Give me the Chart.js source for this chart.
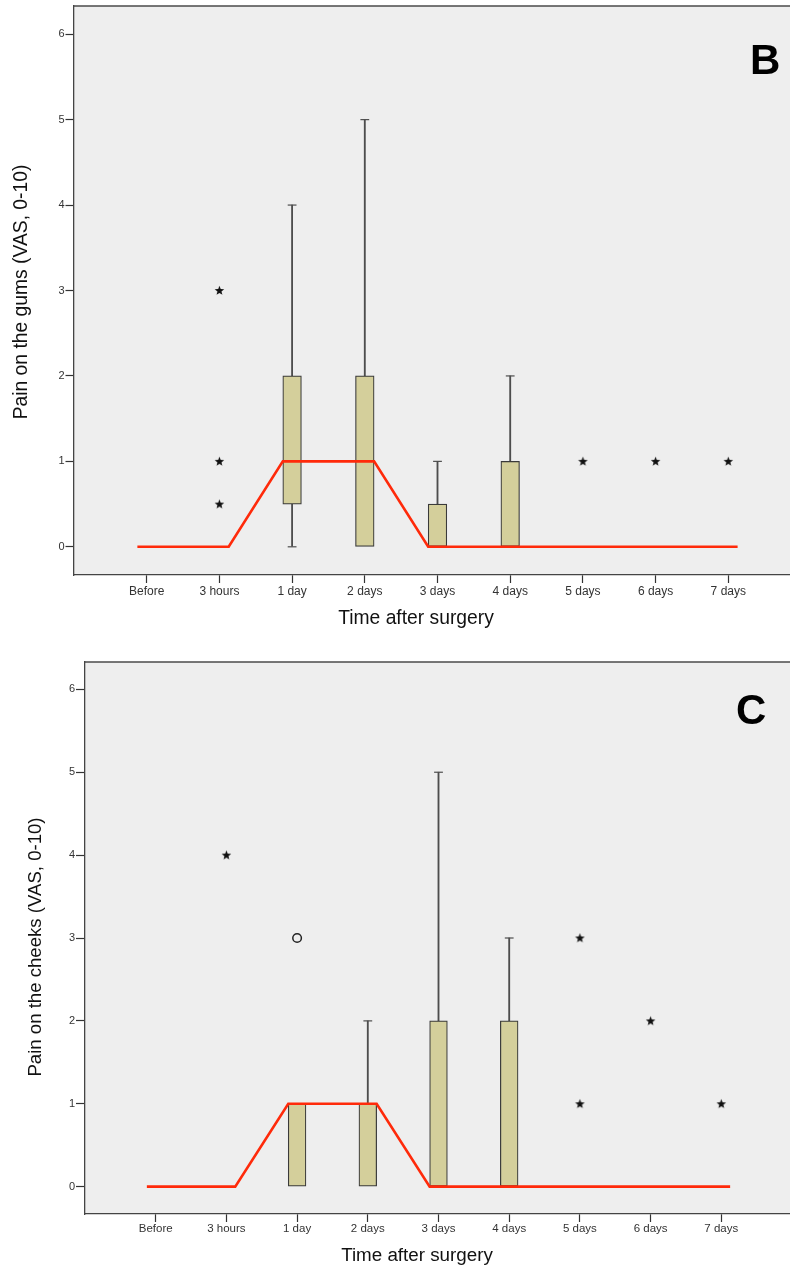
<!DOCTYPE html>
<html>
<head>
<meta charset="utf-8">
<script src="https://cdn.jsdelivr.net/npm/chart.js@4.4.1/dist/chart.umd.min.js"></script>
<style>
body { margin: 0; background: #fff; width: 790px; height: 1268px; overflow: hidden; position: relative; }
.panel { position: absolute; left: 0; width: 790px; overflow: hidden; }
canvas { display: block; }
</style>
</head>
<body>
<div class="panel" style="top:0;height:640px"><canvas id="gums" width="801" height="640"></canvas></div>
<div class="panel" style="top:640px;height:628px"><canvas id="cheeks" width="792" height="628"></canvas></div>
<script>
var labels = ['Before', '3 hours', '1 day', '2 days', '3 days', '4 days', '5 days', '6 days', '7 days'];
var yTicks = [0, 1, 2, 3, 4, 5, 6];
var xTitle = 'Time after surgery';

// B - pain on the gums
var gumsTitle  = 'Pain on the gums (VAS, 0-10)';
var gumsMin    = [0, 0, 0,   0, 0,   0, 0, 0, 0];
var gumsQ1     = [0, 0, 0.5, 0, 0,   0, 0, 0, 0];
var gumsMedian = [0, 0, 1,   1, 0,   0, 0, 0, 0];
var gumsQ3     = [0, 0, 2,   2, 0.5, 1, 0, 0, 0];
var gumsMax    = [0, 0, 4,   5, 1,   2, 0, 0, 0];
var gumsStars  = [[], [3, 1, 0.5], [], [], [], [], [1], [1], [1]];
var gumsRings  = [[], [], [], [], [], [], [], [], []];

// C - pain on the cheeks
var cheeksTitle  = 'Pain on the cheeks (VAS, 0-10)';
var cheeksMin    = [0, 0, 0, 0, 0, 0, 0, 0, 0];
var cheeksQ1     = [0, 0, 0, 0, 0, 0, 0, 0, 0];
var cheeksMedian = [0, 0, 1, 1, 0, 0, 0, 0, 0];
var cheeksQ3     = [0, 0, 1, 1, 2, 2, 0, 0, 0];
var cheeksMax    = [0, 0, 1, 2, 5, 3, 0, 0, 0];
var cheeksStars  = [[], [4], [], [], [], [], [3, 1], [2], [1]];
var cheeksRings  = [[], [], [3], [], [], [], [], [], []];

var FONT = '"Liberation Sans", Arial, Helvetica, sans-serif';

// little filled star used for the extreme values
var star = document.createElement('canvas');
star.width = 11; star.height = 11;
var sc = star.getContext('2d');
sc.beginPath();
for (var k = 0; k < 10; k++) {
    var r = k % 2 ? 2.1 : 5;
    var a = -Math.PI / 2 + k * Math.PI / 5;
    sc.lineTo(5.5 + r * Math.cos(a), 5.8 + r * Math.sin(a));
}
sc.closePath();
sc.fillStyle = '#111';
sc.fill();

// grey plot background, top frame line, panel letter and axis titles
var framePlugin = {
    id: 'frame',
    beforeDraw: function(chart) {
        var a = chart.chartArea, ctx = chart.ctx;
        ctx.save();
        ctx.fillStyle = '#eeeeee';
        ctx.fillRect(a.left, a.top, a.right - a.left, a.bottom - a.top);
        ctx.strokeStyle = '#4a4a4a';
        ctx.lineWidth = 1.3;
        ctx.beginPath();
        ctx.moveTo(a.left, a.top);
        ctx.lineTo(a.right, a.top);
        ctx.stroke();
        ctx.restore();
    },
    afterDraw: function(chart, args, o) {
        var ctx = chart.ctx;
        ctx.save();
        ctx.fillStyle = '#000';
        ctx.font = 'bold 42px ' + FONT;
        ctx.textBaseline = 'alphabetic';
        ctx.textAlign = 'left';
        ctx.fillText(o.letter, o.letterX, o.letterY);

        ctx.fillStyle = '#111';
        ctx.textBaseline = 'middle';
        ctx.textAlign = 'center';
        ctx.font = o.xTitleSize + 'px ' + FONT;
        ctx.fillText(xTitle, o.xTitleX, o.xTitleY);

        ctx.translate(o.yTitleX, o.yTitleY);
        ctx.rotate(-Math.PI / 2);
        ctx.font = o.yTitleSize + 'px ' + FONT;
        ctx.fillText(o.yTitle, 0, 0);
        ctx.restore();
    }
};

function makeChart(id, s, look) {
    var boxes = [], whiskers = [], caps = [], medianLine = [], stars = [], rings = [];
    labels.forEach(function(l, i) {
        if (s.q3[i] > s.q1[i]) boxes.push({x: i, y: [s.q1[i], s.q3[i]]});
        if (s.max[i] > s.q3[i]) {
            whiskers.push({x: i, y: [s.q3[i], s.max[i]]});
            caps.push({x: i, y: s.max[i]});
        }
        if (s.min[i] < s.q1[i]) {
            whiskers.push({x: i, y: [s.min[i], s.q1[i]]});
            caps.push({x: i, y: s.min[i]});
        }
        medianLine.push({x: i - look.half, y: s.median[i]}, {x: i + look.half, y: s.median[i]});
        s.stars[i].forEach(function(v) { stars.push({x: i, y: v}); });
        s.rings[i].forEach(function(v) { rings.push({x: i, y: v}); });
    });

    return new Chart(document.getElementById(id), {
        type: 'line',
        data: {
            datasets: [
                {
                    type: 'line', data: stars, showLine: false, order: 0,
                    pointStyle: star, pointRadius: 5, borderWidth: 0
                },
                {
                    type: 'line', data: rings, showLine: false, order: 0,
                    pointStyle: 'circle', pointRadius: 4.3, pointBorderWidth: 1.5,
                    pointBorderColor: '#222', pointBackgroundColor: 'rgba(0,0,0,0)'
                },
                {
                    type: 'line', data: medianLine, order: 1,
                    borderColor: '#ff2a0a', borderWidth: 2.6, pointRadius: 0, tension: 0
                },
                {
                    type: 'line', data: caps, showLine: false, order: 2,
                    pointStyle: 'line', pointRadius: 4.4, pointBorderWidth: 1.2, pointBorderColor: '#4d4d4d'
                },
                {
                    type: 'bar', data: boxes, order: 3, grouped: false,
                    barThickness: look.box, borderSkipped: false, borderWidth: 1.2,
                    borderColor: '#3a3a3a', backgroundColor: '#d4cf9b'
                },
                {
                    type: 'bar', data: whiskers, order: 4, grouped: false,
                    barThickness: 1.2, borderWidth: 0, backgroundColor: '#4d4d4d'
                }
            ]
        },
        options: {
            responsive: false,
            animation: false,
            events: [],
            layout: { autoPadding: false, padding: { top: look.top, left: 0, right: 0, bottom: 0 } },
            plugins: {
                legend: { display: false },
                tooltip: { enabled: false },
                frame: look.frame
            },
            scales: {
                x: {
                    type: 'linear', min: -1, max: 9, offset: false,
                    afterBuildTicks: function(sc) { sc.ticks = labels.map(function(l, i) { return {value: i}; }); },
                    afterFit: function(sc) { sc.height = look.xHeight; sc.paddingLeft = 0; sc.paddingRight = 0; },
                    grid: { drawOnChartArea: false, offset: false, tickLength: 8, tickColor: '#333', tickWidth: 1.2 },
                    border: { color: '#444', width: 1.3 },
                    ticks: {
                        autoSkip: false, maxRotation: 0, padding: look.xPad, color: '#333',
                        font: { size: look.xFont, family: FONT },
                        callback: function(v) { return labels[v]; }
                    }
                },
                y: {
                    min: -0.33, max: 6.33,
                    afterBuildTicks: function(sc) { sc.ticks = yTicks.map(function(v) { return {value: v}; }); },
                    afterFit: function(sc) { sc.width = look.yWidth; sc.paddingTop = 0; sc.paddingBottom = 0; },
                    grid: { drawOnChartArea: false, tickLength: look.yTick, tickColor: '#333', tickWidth: 1.2 },
                    border: { color: '#444', width: 1.3 },
                    ticks: { padding: 1, color: '#333', font: { size: 11, family: FONT } }
                }
            }
        },
        plugins: [framePlugin]
    });
}

makeChart('gums', {
    min: gumsMin, q1: gumsQ1, median: gumsMedian, q3: gumsQ3, max: gumsMax,
    stars: gumsStars, rings: gumsRings
}, {
    top: 6, xHeight: 65, yWidth: 74, box: 18.6, half: 0.128, xFont: 12, xPad: 1, yTick: 8.5,
    frame: {
        letter: 'B', letterX: 750, letterY: 74,
        xTitleSize: 19.3, xTitleX: 416, xTitleY: 619,
        yTitle: gumsTitle, yTitleSize: 19.3, yTitleX: 22, yTitleY: 292
    }
});

makeChart('cheeks', {
    min: cheeksMin, q1: cheeksQ1, median: cheeksMedian, q3: cheeksQ3, max: cheeksMax,
    stars: cheeksStars, rings: cheeksRings
}, {
    top: 22, xHeight: 54, yWidth: 85, box: 17.7, half: 0.125, xFont: 11.5, xPad: 0, yTick: 9,
    frame: {
        letter: 'C', letterX: 736, letterY: 84,
        xTitleSize: 18.8, xTitleX: 417, xTitleY: 615.5,
        yTitle: cheeksTitle, yTitleSize: 18.6, yTitleX: 35.5, yTitleY: 307
    }
});
</script>
</body>
</html>
